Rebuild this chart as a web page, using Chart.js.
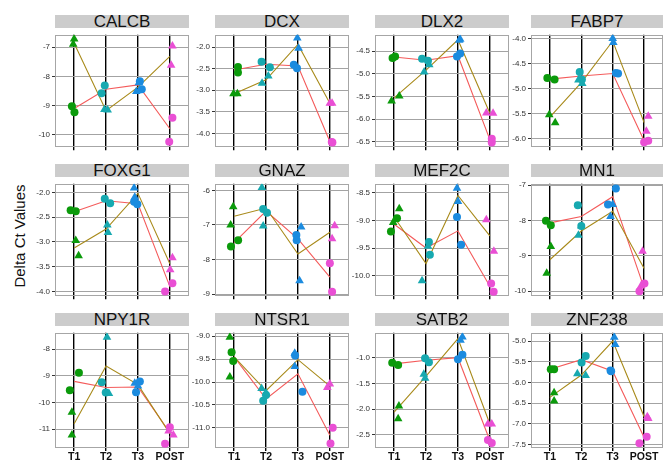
<!DOCTYPE html>
<html>
<head>
<meta charset="utf-8">
<script src="https://cdn.jsdelivr.net/npm/chart.js@4.4.1/dist/chart.umd.min.js"></script>
<style>
  html, body { margin: 0; padding: 0; background: #fff; }
  #wrap { position: relative; width: 669px; height: 461px; overflow: hidden; font-family: 'Liberation Sans', Arial, sans-serif; }
  #wrap canvas { position: absolute; }
  .strip { position: absolute; height: 13px; line-height: 13px; background: #cccccc; text-align: center; font-size: 17px; color: #111; white-space: nowrap; }
  #ylab { position: absolute; left: 19px; top: 236px; transform: translate(-50%, -50%) rotate(-90deg); font-size: 15px; color: #111; white-space: nowrap; }
</style>
</head>
<body>
<div id="wrap"><div id="ylab">Delta Ct Values</div></div>
<script>
// facet order, left to right, top to bottom
const genes = ['CALCB', 'DCX', 'DLX2', 'FABP7', 'FOXG1', 'GNAZ', 'MEF2C', 'MN1', 'NPY1R', 'NTSR1', 'SATB2', 'ZNF238'];
const timepoints = ['T1', 'T2', 'T3', 'POST'];

// two samples per timepoint: T1a, T1b, T2a, T2b, T3a, T3b, POSTa, POSTb
const circleValues = [
  [-9.02, -9.23, -8.31, -8.58, -8.17, -8.44, -9.41, -10.23],
  [-2.46, -2.59, -2.34, -2.47, -2.41, -2.49, -4.2, -4.21],
  [-4.65, -4.62, -4.67, -4.71, -4.62, -4.55, -6.43, -6.51],
  [-4.79, -4.82, -4.67, -4.82, -4.69, -4.7, -6.07, -6.04],
  [-2.36, -2.38, -2.13, -2.22, -2.19, -2.24, -4.0, -3.83],
  [-7.62, -7.44, -6.54, -6.65, -7.29, -7.44, -8.11, -8.93],
  [-9.2, -8.96, -9.39, -9.62, -8.94, -9.44, -10.14, -10.29],
  [-8.01, -8.14, -7.57, -8.16, -7.1, -7.55, -9.78, -10.0],
  [-8.89, -9.54, -9.24, -9.63, -9.21, -9.62, -11.55, -10.93],
  [-9.35, -9.54, -10.41, -10.28, -9.42, -10.21, -11.0, -11.34],
  [-1.1, -1.14, -1.01, -1.09, -1.03, -0.945, -2.6, -2.66],
  [-5.68, -5.68, -5.36, -5.52, -5.71, -5.73, -7.47, -7.31]
];
const circleJitter = [
  [-0.07, 0.01, -0.04, -0.14, 0.06, 0.12, 0.08, -0.02],
  [0.12, 0.12, -0.14, 0.12, -0.13, -0.03, 0.06, 0.08],
  [-0.05, 0.03, -0.125, 0.06, -0.03, 0.07, 0.06, 0.06],
  [-0.08, 0.15, -0.05, 0.02, 0.1, 0.17, 0.0, 0.13],
  [-0.11, 0.05, -0.04, 0.13, -0.12, -0.02, -0.15, 0.08],
  [-0.1, 0.125, -0.09, 0.03, -0.05, -0.04, 0.0, 0.07],
  [-0.1, 0.09, 0.09, 0.12, -0.03, 0.1, 0.04, 0.12],
  [-0.125, 0.03, -0.11, 0.0, 0.1, -0.15, 0.01, -0.15],
  [0.15, -0.135, -0.135, -0.01, 0.06, -0.06, -0.15, 0.0],
  [-0.08, -0.03, -0.09, 0.0, -0.09, 0.14, 0.09, 0.02],
  [-0.06, 0.125, -0.03, 0.09, 0.0, 0.14, -0.06, 0.06],
  [0.03, 0.135, 0.14, 0.01, -0.07, -0.05, -0.15, 0.08]
];
const triangleValues = [
  [-6.72, -6.9, -9.13, -9.15, -8.52, -8.22, -6.96, -7.62],
  [-3.08, -3.08, -2.84, -2.67, -1.79, -2.03, -3.3, -3.3],
  [-5.6, -5.49, -4.96, -4.8, -4.24, -4.26, -5.86, -5.87],
  [-5.52, -5.68, -4.83, -4.9, -4.0, -4.08, -5.55, -5.85],
  [-2.97, -3.28, -2.66, -2.81, -1.91, -2.1, -3.32, -3.56],
  [-6.47, -7.0, -5.92, -7.03, -7.06, -8.61, -7.02, -7.4],
  [-8.79, -9.04, -10.09, -9.47, -8.42, -8.66, -8.99, -9.56],
  [-8.74, -9.49, -8.16, -8.42, -7.89, -7.55, -8.87, -9.85],
  [-10.37, -11.22, -7.55, -9.66, -9.28, -9.38, -11.22, -11.07],
  [-9.02, -9.89, -10.14, -10.24, -9.37, -9.66, -10.04, -10.12],
  [-1.94, -2.19, -1.32, -1.4, -0.6, -0.66, -2.29, -2.29],
  [-6.25, -6.45, -5.79, -5.83, -4.91, -5.08, -6.83, -6.87]
];
const triangleJitter = [
  [0.0, -0.03, -0.05, 0.05, -0.05, 0.03, 0.08, 0.04],
  [-0.02, 0.1, -0.125, 0.07, -0.02, 0.02, 0.0, 0.07],
  [-0.08, 0.16, -0.06, 0.1, 0.07, 0.04, -0.11, 0.1],
  [-0.02, 0.17, -0.09, 0.03, 0.0, 0.02, 0.13, 0.07],
  [0.05, 0.14, 0.04, 0.06, -0.12, -0.1, 0.08, 0.01],
  [-0.03, -0.11, -0.13, -0.09, 0.1, 0.05, 0.15, 0.07],
  [0.16, -0.03, -0.125, 0.06, -0.03, 0.0, -0.11, 0.125],
  [0.03, -0.1, 0.0, -0.09, -0.07, 0.0, -0.05, -0.1],
  [-0.07, -0.07, 0.03, 0.09, -0.1, 0.0, 0.11, -0.04],
  [-0.135, -0.135, -0.14, 0.0, -0.1, -0.1, 0.0, -0.08],
  [0.15, 0.125, -0.07, -0.03, 0.14, 0.08, -0.06, 0.06],
  [0.135, 0.135, -0.125, 0.14, 0.05, 0.08, 0.1, 0.13]
];

// group means per timepoint (the two lines)
const circleMean = [
  [-9.1, -8.44, -8.29, -9.79],
  [-2.53, -2.4, -2.44, -4.19],
  [-4.63, -4.7, -4.6, -6.45],
  [-4.81, -4.75, -4.7, -6.04],
  [-2.39, -2.17, -2.23, -3.9],
  [-7.51, -6.6, -7.4, -8.51],
  [-9.07, -9.5, -9.19, -10.19],
  [-8.07, -7.89, -7.33, -9.91],
  [-9.21, -9.44, -9.42, -11.13],
  [-9.45, -10.37, -9.82, -11.16],
  [-1.12, -1.05, -1.0, -2.61],
  [-5.68, -5.45, -5.73, -7.33]
];
const triangleMean = [
  [-6.87, -9.17, -8.37, -7.32],
  [-3.08, -2.76, -1.94, -3.3],
  [-5.53, -4.92, -4.25, -5.87],
  [-5.57, -4.88, -4.05, -5.68],
  [-3.12, -2.74, -2.02, -3.44],
  [-6.75, -6.51, -7.84, -7.21],
  [-8.94, -9.78, -8.55, -9.28],
  [-9.11, -8.3, -7.74, -9.36],
  [-10.8, -8.63, -9.33, -11.17],
  [-9.45, -10.19, -9.51, -10.09],
  [-2.06, -1.36, -0.63, -2.29],
  [-6.36, -5.82, -5.0, -6.83]
];

// free y scales: [min, max] and tick labels per facet
const yLimits = [
  [-10.42, -6.58], [-4.32, -1.716], [-6.616, -4.14], [-6.17, -3.926],
  [-4.093, -1.827], [-9.06, -5.81], [-10.37, -8.34], [-10.14, -6.966],
  [-11.71, -7.386], [-11.44, -8.924], [-2.757, -0.516], [-7.584, -4.8]
];
const yTickLabels = [
  ['-7', '-8', '-9', '-10'],
  ['-2.0', '-2.5', '-3.0', '-3.5', '-4.0'],
  ['-4.5', '-5.0', '-5.5', '-6.0', '-6.5'],
  ['-4.0', '-4.5', '-5.0', '-5.5', '-6.0'],
  ['-2.0', '-2.5', '-3.0', '-3.5', '-4.0'],
  ['-6', '-7', '-8', '-9'],
  ['-8.5', '-9.0', '-9.5', '-10.0'],
  ['-7', '-8', '-9', '-10'],
  ['-8', '-9', '-10', '-11'],
  ['-9.0', '-9.5', '-10.0', '-10.5', '-11.0'],
  ['-1.0', '-1.5', '-2.0', '-2.5'],
  ['-5.0', '-5.5', '-6.0', '-6.5', '-7.0', '-7.5']
];

const tpColors = ['#0b9a0b', '#17a9b0', '#1b8bdf', '#e94fd4'];
const circleLineColor = '#f45b5b';
const triangleLineColor = '#a88a1a';

// panel grid geometry
const colLeft = [55, 215, 375, 531];
const colWidth = [134, 134, 134, 132];
const rowTop = [28, 177, 326];
const rowBottom = [150, 299, 448];
const stripH = 13;
const axisW = 44;
const fontFamily = "'Liberation Sans', Arial, sans-serif";

// grey frame round each panel
const panelFrame = {
  id: 'panelFrame',
  beforeDatasetsDraw(chart) {
    const a = chart.chartArea;
    const ctx = chart.ctx;
    ctx.save();
    ctx.strokeStyle = '#a6a6a6';
    ctx.lineWidth = 1;
    ctx.strokeRect(Math.round(a.left) + 0.5, Math.round(a.top) + 0.5,
      Math.round(a.right - a.left) - 1, Math.round(a.bottom - a.top) - 1);
    ctx.restore();
  }
};

function samplePoints(vals, jit) {
  return vals.map((v, j) => ({ x: Math.floor(j / 2) + 1 + jit[j], y: v }));
}
function sampleColors(vals) {
  return vals.map((v, j) => tpColors[Math.floor(j / 2)]);
}
function meanPoints(vals) {
  return vals.map((v, i) => ({ x: i + 1, y: v }));
}

const wrap = document.getElementById('wrap');

genes.forEach((gene, g) => {
  const col = g % 4;
  const row = Math.floor(g / 4);
  const bottomRow = row === 2;
  const plotH = rowBottom[row] - rowTop[row];
  const xAxisH = bottomRow ? 461 - rowBottom[row] : 4;

  const strip = document.createElement('div');
  strip.className = 'strip';
  strip.style.left = colLeft[col] + 'px';
  strip.style.top = (rowTop[row] - stripH) + 'px';
  strip.style.width = colWidth[col] + 'px';
  strip.textContent = gene;
  wrap.appendChild(strip);

  const canvas = document.createElement('canvas');
  canvas.width = axisW + colWidth[col] + 1;
  canvas.height = plotH + xAxisH;
  canvas.style.left = (colLeft[col] - axisW) + 'px';
  canvas.style.top = rowTop[row] + 'px';
  wrap.appendChild(canvas);

  new Chart(canvas, {
    type: 'scatter',
    data: {
      datasets: [
        {
          data: samplePoints(triangleValues[g], triangleJitter[g]),
          pointStyle: 'triangle',
          pointRadius: 5,
          pointBackgroundColor: sampleColors(triangleValues[g]),
          pointBorderColor: sampleColors(triangleValues[g]),
          pointBorderWidth: 0,
          clip: 0
        },
        {
          data: samplePoints(circleValues[g], circleJitter[g]),
          pointStyle: 'circle',
          pointRadius: 4,
          pointBackgroundColor: sampleColors(circleValues[g]),
          pointBorderColor: sampleColors(circleValues[g]),
          pointBorderWidth: 0,
          clip: 0
        },
        {
          type: 'line',
          data: meanPoints(triangleMean[g]),
          borderColor: triangleLineColor,
          borderWidth: 1.1,
          pointRadius: 0,
          tension: 0,
          clip: 0
        },
        {
          type: 'line',
          data: meanPoints(circleMean[g]),
          borderColor: circleLineColor,
          borderWidth: 1.1,
          pointRadius: 0,
          tension: 0,
          clip: 0
        }
      ]
    },
    options: {
      responsive: false,
      animation: false,
      events: [],
      layout: { autoPadding: false, padding: { left: 0, right: 1, top: 0, bottom: 0 } },
      plugins: { legend: { display: false }, tooltip: { enabled: false } },
      scales: {
        x: {
          type: 'linear',
          min: 0.4,
          max: 4.6,
          afterBuildTicks: s => { s.ticks = timepoints.map((t, i) => ({ value: i + 1 })); },
          afterFit: s => { s.height = xAxisH; },
          ticks: {
            display: bottomRow,
            autoSkip: false,
            maxRotation: 0,
            padding: 0,
            color: '#111',
            font: { family: fontFamily, size: 10.5, weight: 'bold' },
            callback: v => timepoints[v - 1]
          },
          grid: { color: '#000', lineWidth: 1.4, tickLength: 3, tickColor: '#000' },
          border: { display: false }
        },
        y: {
          type: 'linear',
          min: yLimits[g][0],
          max: yLimits[g][1],
          afterBuildTicks: s => { s.ticks = yTickLabels[g].map(t => ({ value: parseFloat(t) })); },
          afterFit: s => { s.width = axisW; },
          ticks: {
            autoSkip: false,
            padding: 2,
            color: '#333',
            font: { family: fontFamily, size: 8 },
            callback: v => yTickLabels[g].find(t => parseFloat(t) === v)
          },
          grid: { color: '#a3a3a3', lineWidth: 1, tickLength: 3, tickColor: '#333' },
          border: { display: false }
        }
      }
    },
    plugins: [panelFrame]
  });
});
</script>
</body>
</html>
